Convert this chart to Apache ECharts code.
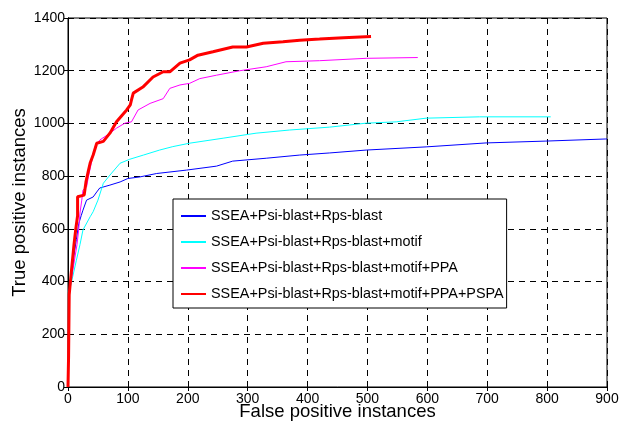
<!DOCTYPE html>
<html>
<head>
<meta charset="utf-8">
<script src="https://cdn.jsdelivr.net/npm/echarts@6/dist/echarts.min.js"></script>
<style>
  html, body { margin: 0; padding: 0; background: #fff; }
  #chart { width: 619px; height: 423px; }
</style>
</head>
<body>
<div id="chart"></div>
<script>
// series names (legend order)
var seriesNames = [
  'SSEA+Psi-blast+Rps-blast',
  'SSEA+Psi-blast+Rps-blast+motif',
  'SSEA+Psi-blast+Rps-blast+motif+PPA',
  'SSEA+Psi-blast+Rps-blast+motif+PPA+PSPA'
];

// [false positives, true positives]
var blueData = [[0,0],[1,150],[2,368],[6,420],[10,500],[14,560],[18,620],[22,650],[25,671],[31,709],[42,721],[48,740],[53,755],[70,766],[87,778],[100,791],[120,797],[148,810],[198,823],[248,838],[275,857],[331,868],[387,880],[437,888],[498,899],[598,911],[698,926],[798,933],[898,941],[900,941]];
var cyanData = [[0,0],[1,150],[2,360],[6,400],[10,440],[14,481],[20,540],[25,596],[37,646],[42,665],[50,709],[59,773],[70,804],[87,849],[103,864],[126,880],[153,899],[175,912],[203,925],[259,944],[314,963],[370,975],[437,986],[498,1001],[548,1006],[598,1020],[687,1025],[806,1025]];
var magentaData = [[0,0],[1,150],[2,350],[5,400],[10,470],[15,540],[18,600],[20,660],[23,709],[25,747],[31,759],[34,797],[39,850],[45,911],[53,937],[70,963],[81,982],[95,1001],[106,1006],[117,1051],[137,1076],[159,1094],[170,1133],[187,1146],[203,1152],[220,1170],[248,1183],[287,1200],[331,1215],[364,1234],[420,1238],[498,1247],[584,1250]];
var redData = [[0,0],[1,120],[2,350],[4,400],[7,470],[10,540],[13,600],[16,650],[16,722],[27,728],[30,778],[34,820],[37,850],[42,880],[48,925],[59,932],[70,963],[81,1006],[90,1030],[98,1051],[104,1070],[106,1089],[109,1115],[125,1138],[142,1176],[159,1196],[170,1196],[187,1229],[203,1241],[217,1259],[242,1272],[275,1290],[298,1290],[326,1304],[359,1310],[387,1316],[420,1320],[460,1325],[506,1330]];

var FONT = 'Liberation Sans, Arial, sans-serif';
var chart = echarts.init(document.getElementById('chart'));

function line(name, data, color, width) {
  return {
    name: name,
    type: 'line',
    data: data,
    showSymbol: false,
    symbol: 'none',
    animation: false,
    lineStyle: { color: color, width: width },
    itemStyle: { color: color }
  };
}

// plain box axis on top / right, ticks only
function boxAxis(pos, max, interval) {
  return {
    type: 'value', position: pos, min: 0, max: max, interval: interval,
    axisLine: { show: true, lineStyle: { color: '#000' } },
    axisTick: { show: true, inside: true, length: 4, lineStyle: { color: '#000' } },
    axisLabel: { show: false },
    splitLine: { show: false }
  };
}

var dash = { color: '#000', type: [6, 5], width: 1 };

var option = {
  backgroundColor: '#fff',
  textStyle: { fontFamily: FONT },
  grid: {
    left: 68, top: 18, right: 12, bottom: 36,
    containLabel: false,
    outerBoundsMode: 'none',
    show: true, borderColor: '#000', borderWidth: 1
  },
  legend: {
    orient: 'vertical',
    left: 173, top: 199,
    backgroundColor: '#fff',
    borderColor: '#000',
    borderWidth: 1,
    padding: [10, 3, 7, 7],
    itemGap: 12,
    itemWidth: 25,
    itemHeight: 14,
    itemStyle: { opacity: 0 },
    textStyle: { fontSize: 14.4, color: '#000', fontFamily: FONT },
    data: seriesNames
  },
  xAxis: [{
    type: 'value',
    min: 0, max: 900, interval: 100,
    name: 'False positive instances',
    nameLocation: 'middle',
    nameGap: 15,
    nameMoveOverlap: false,
    nameTextStyle: { fontSize: 18.5, color: '#000' },
    axisLine: { lineStyle: { color: '#000' } },
    axisTick: { inside: true, length: 4, lineStyle: { color: '#000' } },
    axisLabel: { fontSize: 14, color: '#000', margin: 5, formatter: function (v) { return String(v); } },
    splitLine: { show: true, lineStyle: dash }
  }, boxAxis('top', 900, 100)],
  yAxis: [{
    type: 'value',
    min: 0, max: 1400, interval: 200,
    name: 'True positive instances',
    nameLocation: 'middle',
    nameGap: 39,
    nameMoveOverlap: false,
    nameTextStyle: { fontSize: 18.5, color: '#000' },
    axisLine: { show: true, lineStyle: { color: '#000' } },
    axisTick: { show: true, inside: true, length: 4, lineStyle: { color: '#000' } },
    axisLabel: { fontSize: 14, color: '#000', margin: 3, formatter: function (v) { return String(v); } },
    splitLine: { show: true, lineStyle: dash }
  }, boxAxis('right', 1400, 200)],
  series: [
    line(seriesNames[0], blueData, '#0000ff', 1),
    line(seriesNames[1], cyanData, '#00ffff', 1),
    line(seriesNames[2], magentaData, '#ff00ff', 1),
    line(seriesNames[3], redData, '#ff0000', 3)
  ]
};
chart.setOption(option);
</script>
</body>
</html>
